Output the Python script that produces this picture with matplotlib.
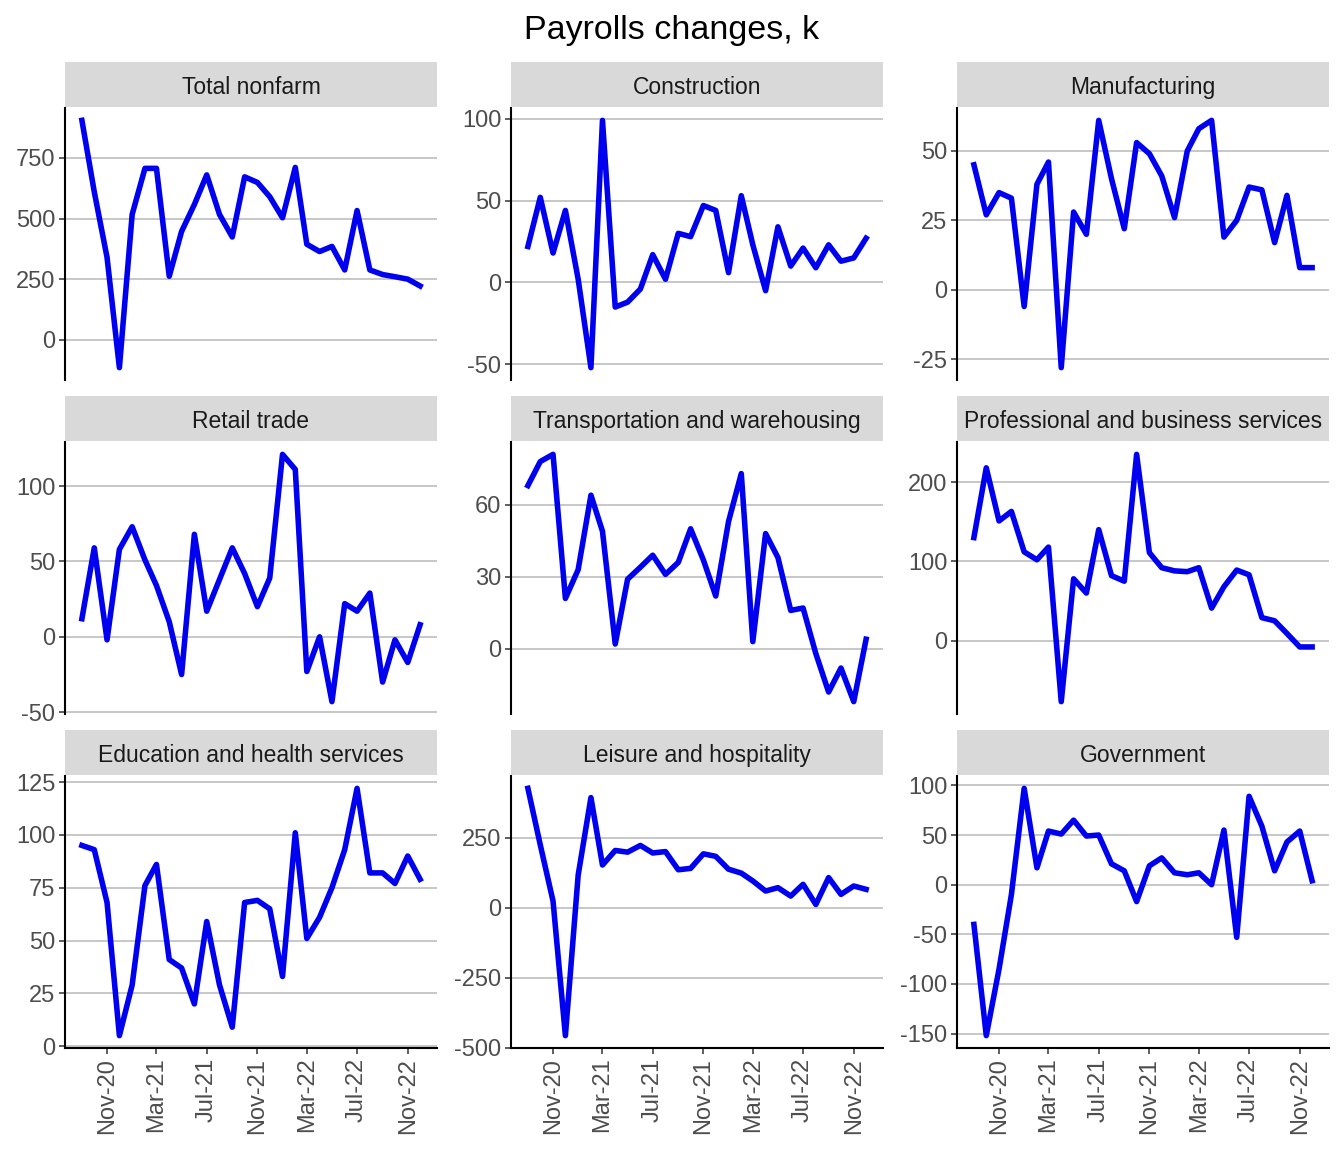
import matplotlib.pyplot as plt
import matplotlib.dates as mdates
from matplotlib.ticker import MultipleLocator
import pandas as pd

plt.rcParams['font.family'] = ['Liberation Sans', 'DejaVu Sans']
plt.rcParams['axes.unicode_minus'] = False

# monthly payroll changes, thousands, Sep-2020 .. Dec-2022
months = pd.date_range("2020-09-01", periods=28, freq="MS")

panel_titles = ["Total nonfarm", "Construction", "Manufacturing",
                "Retail trade", "Transportation and warehousing",
                "Professional and business services",
                "Education and health services", "Leisure and hospitality",
                "Government"]

total_nonfarm = [905, 610, 340, -115, 517, 707, 707, 262, 447, 558, 680, 517,
                 424, 672, 649, 590, 503, 711, 394, 364, 385, 288, 533, 288,
                 269, 260, 250, 222]
construction = [22, 52, 18, 44, 2, -52, 99, -15, -12, -4, 17, 2, 30, 28, 47,
                44, 6, 53, 23, -5, 34, 10, 21, 9, 23, 13, 15, 27]
manufacturing = [45, 27, 35, 33, -6, 38, 46, -28, 28, 20, 61, 40, 22, 53, 49,
                 41, 26, 50, 58, 61, 19, 25, 37, 36, 17, 34, 8, 8]
retail_trade = [12, 59, -2, 58, 73, 51, 34, 10, -25, 68, 17, 38, 59, 42, 20,
                39, 121, 111, -23, 0, -43, 22, 17, 29, -30, -2, -17, 8]
transportation = [68, 78, 81, 21, 33, 64, 49, 2, 29, 34, 39, 31, 36, 50, 37,
                  22, 53, 73, 3, 48, 38, 16, 17, -2, -18, -8, -22, 4]
professional = [130, 218, 151, 163, 112, 102, 118, -77, 78, 60, 140, 82, 75,
                235, 111, 92, 88, 87, 92, 41, 68, 89, 83, 29, 25, 9, -8, -8]
education_health = [95, 93, 68, 5, 29, 76, 86, 41, 37, 20, 59, 29, 9, 68, 69,
                    65, 33, 101, 51, 61, 75, 93, 122, 82, 82, 77, 90, 79]
leisure = [427, 225, 24, -457, 117, 394, 153, 205, 199, 223, 196, 201, 136,
           141, 193, 184, 138, 124, 96, 60, 72, 42, 84, 12, 108, 48, 78, 66]
government = [-40, -152, -85, -10, 97, 17, 54, 51, 65, 49, 50, 21, 14, -17, 19,
              27, 12, 10, 12, 0, 55, -53, 89, 59, 14, 43, 54, 4]

series = [total_nonfarm, construction, manufacturing, retail_trade,
          transportation, professional, education_health, leisure, government]
y_steps = [250, 50, 25, 50, 30, 100, 25, 250, 50]
tick_dates = pd.to_datetime(["2020-11-01", "2021-03-01", "2021-07-01",
                             "2021-11-01", "2022-03-01", "2022-07-01",
                             "2022-11-01"])

W, H = 1344, 1152
fig = plt.figure(figsize=(W / 100, H / 100), dpi=100)
fig.text(0.5, 1 - 31 / H, "Payrolls changes, k", ha="center", va="center",
         fontsize=24.5, color="black")

col_left = [65, 511, 957]
row_top = [108, 442, 776]
pw, ph = 372, 272
strip_h = 45

for i, (name, vals) in enumerate(zip(panel_titles, series)):
    r, c = divmod(i, 3)
    x0, y0 = col_left[c], row_top[r]
    ax = fig.add_axes([x0 / W, 1 - (y0 + ph) / H, pw / W, ph / H])
    ax.plot(months, vals, color="#0000F0", lw=4.0)
    ax.margins(x=0.05, y=0.05)
    ax.yaxis.set_major_locator(MultipleLocator(y_steps[i]))
    ax.grid(axis="y", color="#BEBEBE", lw=1.2)
    ax.set_axisbelow(True)
    for s in ["top", "right"]:
        ax.spines[s].set_visible(False)
    ax.spines["left"].set_linewidth(1.5)
    ax.tick_params(axis="y", labelsize=17, labelcolor="#4D4D4D", length=4,
                   width=1.1, color="#333333", pad=3)
    ax.set_xticks(tick_dates)
    if r == 2:
        ax.spines["bottom"].set_linewidth(1.5)
        ax.xaxis.set_major_formatter(mdates.DateFormatter("%b-%y"))
        ax.tick_params(axis="x", labelsize=17, labelcolor="#4D4D4D", length=4,
                       width=1.1, color="#333333", labelrotation=90, pad=3)
    else:
        ax.spines["bottom"].set_visible(False)
        ax.tick_params(axis="x", length=0, labelbottom=False)

    sx = fig.add_axes([x0 / W, 1 - (y0 - 1) / H, pw / W, strip_h / H])
    sx.set_facecolor("#D9D9D9")
    sx.set_xticks([])
    sx.set_yticks([])
    for s in sx.spines.values():
        s.set_visible(False)
    sx.text(0.5, 0.44, name, ha="center", va="center", fontsize=16.5,
            color="#1A1A1A", transform=sx.transAxes)

fig.savefig("out.png", dpi=100, facecolor="white")
